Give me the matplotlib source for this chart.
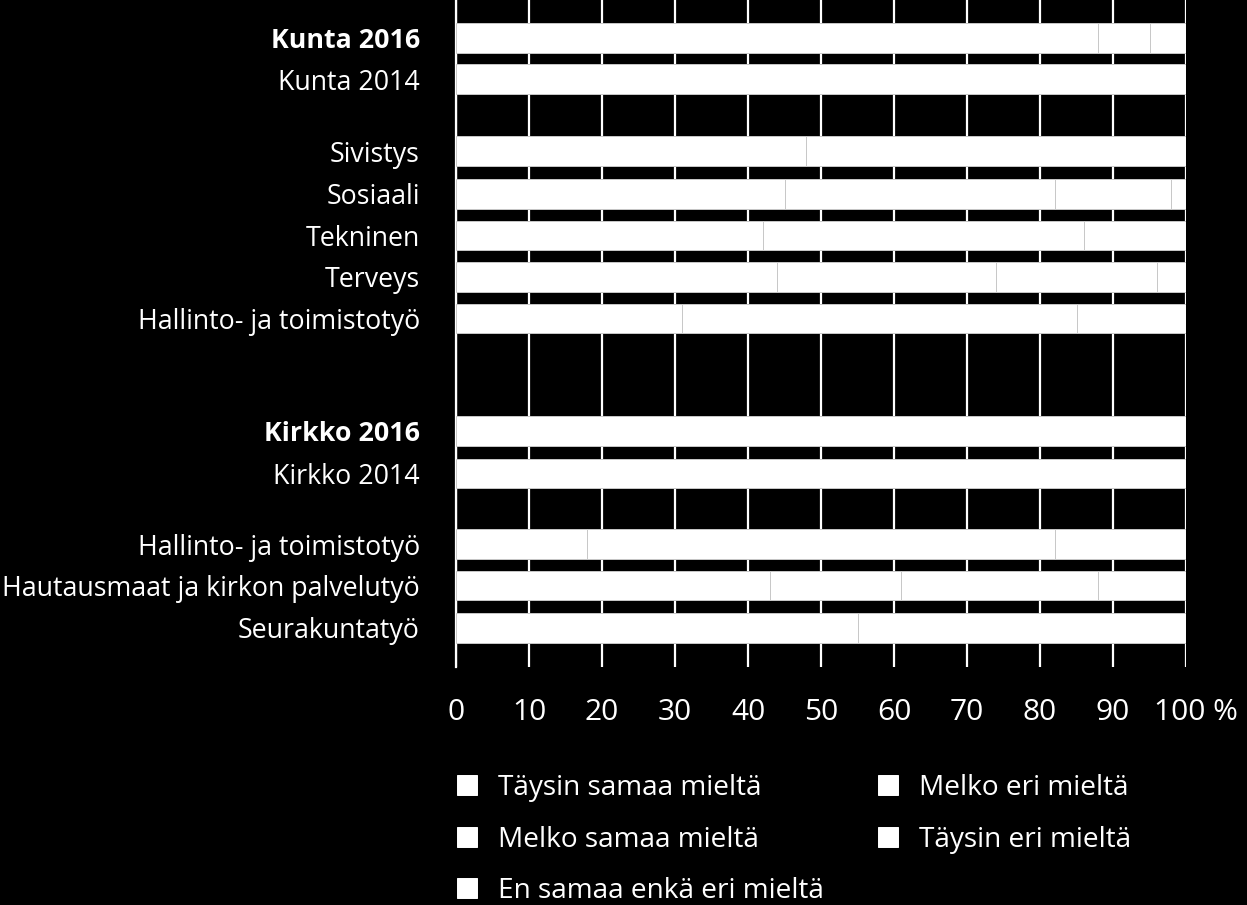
import matplotlib
matplotlib.use("Agg")
import matplotlib.pyplot as plt
import matplotlib.transforms as mtransforms
import numpy as np

plt.rcParams['font.family'] = ['Open Sans', 'DejaVu Sans']

categories = ["Kunta 2016", "Kunta 2014", "Sivistys", "Sosiaali", "Tekninen",
              "Terveys", "Hallinto- ja toimistotyö", "Kirkko 2016", "Kirkko 2014",
              "Hallinto- ja toimistotyö", "Hautausmaat ja kirkon palvelutyö",
              "Seurakuntatyö"]
bold_labels = ["Kunta 2016", "Kirkko 2016"]

series_names = ["Täysin samaa mieltä", "Melko samaa mieltä",
                "En samaa enkä eri mieltä", "Melko eri mieltä", "Täysin eri mieltä"]
taysin_samaa = [88, 100, 48, 45, 42, 44, 31, 100, 100, 18, 43, 55]
melko_samaa  = [7,  0,  52, 37, 44, 30, 54, 0,   0,   64, 18, 45]
en_samaa     = [5,  0,  0,  16, 14, 22, 15, 0,   0,   18, 27, 0]
melko_eri    = [0,  0,  0,  2,  0,  4,  0,  0,   0,   0,  12, 0]
taysin_eri   = [0,  0,  0,  0,  0,  0,  0,  0,   0,   0,  0,  0]
series = [taysin_samaa, melko_samaa, en_samaa, melko_eri, taysin_eri]
xticks = [0, 10, 20, 30, 40, 50, 60, 70, 80, 90, 100]
xticklabels = ["0", "10", "20", "30", "40", "50", "60", "70", "80", "90", "100 %"]

# layout: row positions (rows with spacing gaps)
ypos = np.array([0, 0.98, 2.70, 3.72, 4.72, 5.71, 6.70, 9.40, 10.41, 12.10, 13.09, 14.10])

fig = plt.figure(figsize=(12.47, 9.05), dpi=100, facecolor='black')
ax = fig.add_axes([456/1247, 1 - 667/905, (1186-456)/1247, 667/905])
ax.set_facecolor('black')

left = np.zeros(len(categories))
handles = []
for name, vals in zip(series_names, series):
    vals = np.array(vals, dtype=float)
    b = ax.barh(ypos, vals, left=left, height=0.71, color='white',
                edgecolor='#c8c8c8', linewidth=0.7, label=name, zorder=3)
    handles.append(b)
    left += vals

ax.set_xlim(0, 100)
ax.set_ylim(15.04, -0.916)
ax.set_xticks(xticks)
ax.set_xticklabels(xticklabels)
ax.set_yticks(ypos)
ax.set_yticklabels(categories)
for lbl in ax.get_yticklabels():
    if lbl.get_text() in bold_labels:
        lbl.set_fontweight('bold')
    lbl.set_fontsize(19.3)

ax.tick_params(axis='x', length=0, pad=22, labelsize=21.5, colors='white')
ax.tick_params(axis='y', length=0, pad=26, colors='white')
ax.grid(axis='x', color='white', linewidth=1.6, zorder=1)
ax.set_axisbelow(True)
for s in ['top', 'right', 'bottom']:
    ax.spines[s].set_visible(False)
ax.spines['left'].set_color('white')
ax.spines['left'].set_linewidth(1.6)

# shift the "100 %" label slightly right, as in the reference
last = ax.xaxis.get_major_ticks()[-1].label1
last.set_transform(last.get_transform() +
                   mtransforms.ScaledTranslation(10/100, 0, fig.dpi_scale_trans))

leg = fig.legend(handles=handles, labels=series_names, ncol=2,
                 loc='upper left', bbox_to_anchor=(446/1247, 1 - 763/905),
                 frameon=False, fontsize=20.2, labelcolor='white',
                 handlelength=0.72, handleheight=0.72, handletextpad=0.72,
                 columnspacing=1.95, labelspacing=0.83, borderaxespad=0)
for h in leg.legend_handles:
    h.set_edgecolor('white')

fig.savefig("out.png", dpi=100, facecolor='black')
